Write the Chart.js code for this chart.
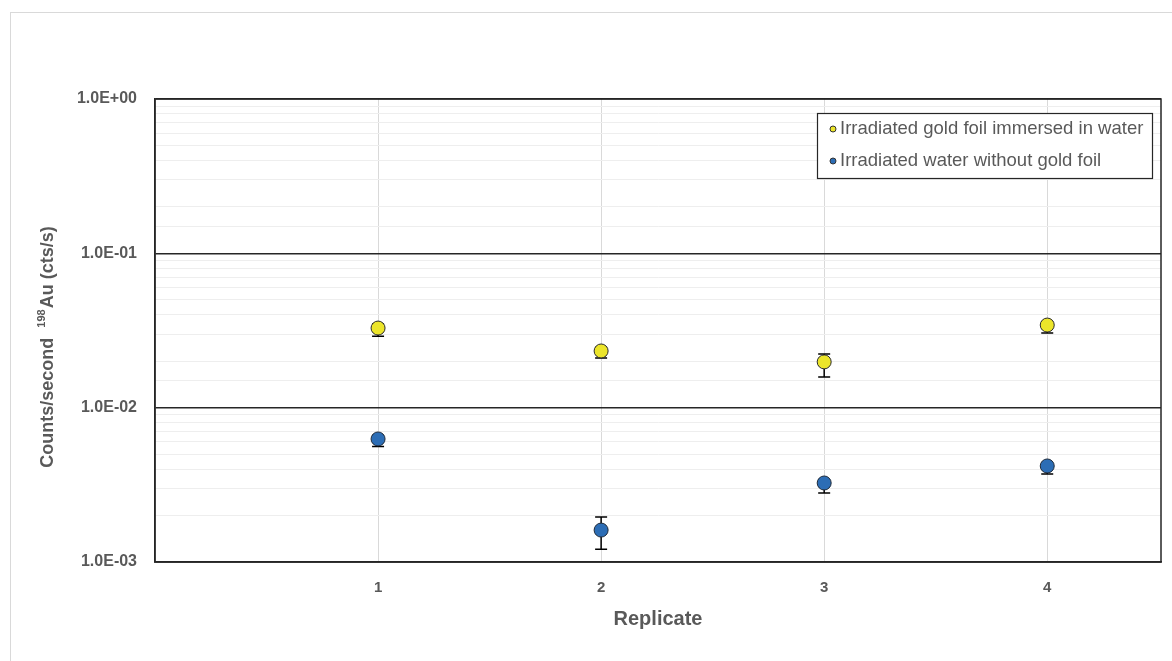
<!DOCTYPE html>
<html>
<head>
<meta charset="utf-8">
<script src="https://cdn.jsdelivr.net/npm/chart.js@4.4.1/dist/chart.umd.min.js"></script>
<style>
  html, body { margin: 0; padding: 0; background: #ffffff; }
  #wrap { width: 1172px; height: 661px; position: relative; }
</style>
</head>
<body>
<div id="wrap"><canvas id="chart" width="1172" height="661"></canvas></div>
<script>
// Replicate numbers along the x axis
const replicates = [1, 2, 3, 4];

// Gold foil immersed in water: count rate with lower / upper error limits (cts/s)
const goldFoil     = [0.0328, 0.0233, 0.0198, 0.0343];
const goldFoilLow  = [0.0290, 0.0210, 0.0158, 0.0305];
const goldFoilHigh = [0.0350, 0.0245, 0.0223, 0.0360];

// Water without gold foil: count rate with lower / upper error limits (cts/s)
const waterOnly     = [0.00627, 0.00161, 0.00325, 0.00419];
const waterOnlyLow  = [0.00560, 0.00121, 0.00280, 0.00372];
const waterOnlyHigh = [0.00660, 0.00196, 0.00340, 0.00435];

// Decade tick labels on the log axis
const yDecades = [1e-3, 1e-2, 1e-1, 1];
const yDecadeLabels = ['1.0E-03', '1.0E-02', '1.0E-01', '1.0E+00'];

const seriesNames = ['Irradiated gold foil immersed in water', 'Irradiated water without gold foil'];
const yTitleMain = 'Counts/second  ';
const yTitleIsotope = '198';
const yTitleRest = 'Au (cts/s)';

const textGrey = '#595959';
const fontFamily = '"Liberation Sans", Arial, sans-serif';

function toPoints(xs, ys) {
  return xs.map((x, i) => ({ x: x, y: ys[i] }));
}

function isDecade(v) {
  const l = Math.log10(v);
  return Math.abs(l - Math.round(l)) < 1e-6;
}

// Vertical error bars drawn from the low/high arrays through the chart scales
const errorBars = {
  id: 'errorBars',
  beforeDatasetsDraw(chart) {
    const { ctx, scales: { x, y } } = chart;
    ctx.save();
    ctx.strokeStyle = '#000000';
    ctx.lineWidth = 1.5;
    chart.data.datasets.forEach((ds) => {
      ds.data.forEach((p, i) => {
        const px = x.getPixelForValue(p.x);
        const yLo = y.getPixelForValue(ds.errLow[i]);
        const yHi = y.getPixelForValue(ds.errHigh[i]);
        ctx.beginPath();
        ctx.moveTo(px, yLo); ctx.lineTo(px, yHi);
        ctx.moveTo(px - 6, yLo); ctx.lineTo(px + 6, yLo);
        ctx.moveTo(px - 6, yHi); ctx.lineTo(px + 6, yHi);
        ctx.stroke();
      });
    });
    ctx.restore();
  }
};

// Outer frame of the figure, the plot box and the rotated y-axis title
const frames = {
  id: 'frames',
  beforeDraw(chart) {
    const { ctx } = chart;
    ctx.save();
    ctx.fillStyle = '#ffffff';
    ctx.fillRect(0, 0, chart.width, chart.height);
    ctx.strokeStyle = '#d9d9d9';
    ctx.lineWidth = 1;
    ctx.strokeRect(10.5, 12.5, chart.width + 10, chart.height + 10);
    ctx.restore();
  },
  afterDraw(chart) {
    const { ctx, chartArea: a } = chart;
    ctx.save();
    ctx.strokeStyle = '#262626';
    ctx.lineWidth = 1.5;
    ctx.strokeRect(a.left, a.top, a.right - a.left, a.bottom - a.top);

    // y-axis title with a superscript mass number
    const big = 'bold 18px ' + fontFamily;
    const small = 'bold 11px ' + fontFamily;
    ctx.font = big;
    const w1 = ctx.measureText(yTitleMain).width;
    const w3 = ctx.measureText(yTitleRest).width;
    ctx.font = small;
    const w2 = ctx.measureText(yTitleIsotope).width + 1;
    const total = w1 + w2 + w3;
    ctx.translate(48, 347);
    ctx.rotate(-Math.PI / 2);
    ctx.fillStyle = textGrey;
    ctx.textBaseline = 'middle';
    ctx.textAlign = 'left';
    let xPos = -total / 2;
    ctx.font = big;
    ctx.fillText(yTitleMain, xPos, 0);
    xPos += w1;
    ctx.font = small;
    ctx.fillText(yTitleIsotope, xPos, -6);
    xPos += w2;
    ctx.font = big;
    ctx.fillText(yTitleRest, xPos, 0);
    ctx.restore();
  }
};

// Boxed legend inside the upper right of the plot area
const boxLegend = {
  id: 'boxLegend',
  afterDraw(chart) {
    const { ctx } = chart;
    const left = 817, top = 113, w = 335, h = 65;
    ctx.save();
    ctx.fillStyle = '#ffffff';
    ctx.fillRect(left, top, w, h);
    ctx.strokeStyle = '#262626';
    ctx.lineWidth = 1.2;
    ctx.strokeRect(left + 0.5, top + 0.5, w, h);
    ctx.font = '18.5px ' + fontFamily;
    ctx.textBaseline = 'middle';
    chart.data.datasets.forEach((ds, i) => {
      const cy = top + 16 + i * 32;
      ctx.beginPath();
      ctx.arc(left + 16, cy, 3, 0, Math.PI * 2);
      ctx.fillStyle = ds.backgroundColor;
      ctx.fill();
      ctx.strokeStyle = '#333333';
      ctx.lineWidth = 1;
      ctx.stroke();
      ctx.fillStyle = textGrey;
      ctx.fillText(ds.label, left + 23, cy);
    });
    ctx.restore();
  }
};

new Chart(document.getElementById('chart'), {
  type: 'scatter',
  data: {
    datasets: [
      {
        label: seriesNames[0],
        data: toPoints(replicates, goldFoil),
        errLow: goldFoilLow,
        errHigh: goldFoilHigh,
        backgroundColor: '#ECE52A',
        borderColor: '#2b2b2b',
        borderWidth: 1,
        pointRadius: 7,
        pointHoverRadius: 7
      },
      {
        label: seriesNames[1],
        data: toPoints(replicates, waterOnly),
        errLow: waterOnlyLow,
        errHigh: waterOnlyHigh,
        backgroundColor: '#2C6DB5',
        borderColor: '#1f2b3a',
        borderWidth: 1,
        pointRadius: 7,
        pointHoverRadius: 7
      }
    ]
  },
  options: {
    responsive: false,
    animation: false,
    devicePixelRatio: 1,
    layout: { padding: { top: 99, right: 11, left: 0, bottom: 0 } },
    plugins: {
      legend: { display: false },
      tooltip: { enabled: false }
    },
    scales: {
      x: {
        type: 'linear',
        min: 0,
        max: 4.51,
        afterFit(s) { s.height = 99; s.paddingLeft = 0; s.paddingRight = 0; },
        ticks: {
          stepSize: 1,
          color: textGrey,
          font: { family: fontFamily, size: 15, weight: 'bold' },
          padding: 17,
          callback: (v) => (replicates.includes(v) ? String(v) : '')
        },
        grid: {
          color: (c) => (c.tick && replicates.includes(c.tick.value) ? '#d9d9d9' : 'rgba(0,0,0,0)'),
          lineWidth: 1,
          drawTicks: false
        },
        border: { color: '#262626', width: 1.5 },
        title: {
          display: true,
          text: 'Replicate',
          color: textGrey,
          font: { family: fontFamily, size: 20, weight: 'bold' },
          padding: { top: 0, bottom: 30 }
        }
      },
      y: {
        type: 'logarithmic',
        min: yDecades[0],
        max: yDecades[yDecades.length - 1],
        afterFit(s) { s.width = 155; s.paddingTop = 0; s.paddingBottom = 0; },
        ticks: {
          color: textGrey,
          font: { family: fontFamily, size: 16, weight: 'bold' },
          padding: 18,
          autoSkip: false,
          callback: (v) => {
            const k = yDecades.findIndex((d) => Math.abs(d - v) / d < 1e-6);
            return k >= 0 ? yDecadeLabels[k] : '';
          }
        },
        grid: {
          color: (c) => (c.tick && isDecade(c.tick.value) ? '#262626' : '#eeeeee'),
          lineWidth: (c) => (c.tick && isDecade(c.tick.value) ? 1.5 : 1),
          drawTicks: false
        },
        border: { color: '#262626', width: 1.5 }
      }
    }
  },
  plugins: [frames, errorBars, boxLegend]
});
</script>
</body>
</html>
